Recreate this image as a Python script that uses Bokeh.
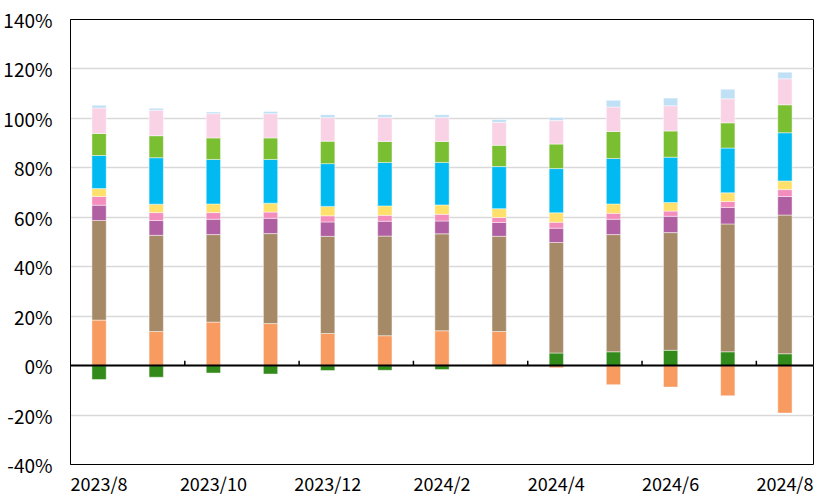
from bokeh.plotting import figure
from bokeh.models import FixedTicker, Range1d, Span, PrintfTickFormatter
from bokeh.embed import file_html
from bokeh.resources import INLINE

months = ["2023/8", "2023/9", "2023/10", "2023/11", "2023/12", "2024/1", "2024/2",
          "2024/3", "2024/4", "2024/5", "2024/6", "2024/7", "2024/8"]

# values in percent, in stacking order (bottom to top)
dark_green = [-5.6, -4.7, -3.0, -3.4, -2.0, -1.9, -1.6, 0.0, 5.1, 5.6, 6.2, 5.6, 4.8]
orange = [18.4, 13.8, 17.6, 17.0, 13.0, 12.1, 14.1, 13.8, -0.9, -7.7, -8.7, -12.2, -19.2]
brown = [40.3, 38.9, 35.4, 36.4, 39.3, 40.3, 39.2, 38.5, 44.7, 47.4, 47.6, 51.7, 56.1]
purple = [6.2, 6.0, 6.2, 6.2, 5.8, 6.0, 5.2, 5.6, 5.8, 6.2, 6.6, 6.7, 7.5]
pink = [3.5, 3.2, 2.7, 2.5, 2.5, 2.4, 2.7, 2.0, 2.4, 2.4, 2.1, 2.4, 2.8]
yellow = [3.2, 3.4, 3.5, 3.6, 3.8, 3.8, 3.8, 3.6, 3.8, 3.8, 3.5, 3.5, 3.5]
blue = [13.4, 18.8, 18.0, 17.7, 17.3, 17.6, 17.2, 17.0, 17.9, 18.4, 18.3, 18.1, 19.5]
green = [8.9, 8.9, 8.7, 8.7, 9.1, 8.5, 8.5, 8.6, 9.9, 10.9, 10.6, 10.2, 11.3]
light_pink = [10.3, 10.3, 9.8, 9.8, 9.5, 9.7, 9.7, 9.3, 9.5, 9.9, 10.2, 9.7, 10.5]
light_blue = [1.1, 0.8, 0.7, 0.9, 1.2, 1.1, 1.1, 1.2, 1.3, 2.7, 3.1, 3.9, 2.7]

y_ticks = [-40, -20, 0, 20, 40, 60, 80, 100, 120, 140]

series = [
    (dark_green, "#318a1a"),
    (orange, "#f79b61"),
    (brown, "#a68a67"),
    (purple, "#b05fa2"),
    (pink, "#f38dbd"),
    (yellow, "#ffe06a"),
    (blue, "#00baf1"),
    (green, "#7abe32"),
    (light_pink, "#fad2e6"),
    (light_blue, "#c0e1f5"),
]

FONT = "Noto Sans CJK JP"

n = len(months)
xs = [i + 0.5 for i in range(n)]

p = figure(frame_width=743, frame_height=445, x_range=Range1d(0, n),
           y_range=Range1d(y_ticks[0], y_ticks[-1]),
           output_backend="svg", toolbar_location=None,
           min_border_left=70, min_border_right=2, min_border_top=19, min_border_bottom=30)
p.background_fill_color = "white"
p.border_fill_color = "white"
p.outline_line_color = "black"
p.outline_line_width = 1

pos = [0.0] * n
neg = [0.0] * n
for vals, color in series:
    bottoms, tops = [], []
    for i, v in enumerate(vals):
        if v >= 0:
            b = pos[i]
            pos[i] = b + v
        else:
            b = neg[i]
            neg[i] = b + v
        bottoms.append(b)
        tops.append(b + v)
    p.vbar(x=xs, bottom=bottoms, top=tops, width=0.25, fill_color=color,
           line_color="white", line_alpha=0.45, line_width=1)

# zero line and its tick marks every two categories
p.add_layout(Span(location=0, dimension="width", line_color="black", line_width=2))
tick_x = list(range(2, n, 2))
p.segment(x0=tick_x, x1=tick_x, y0=[0] * len(tick_x), y1=[2] * len(tick_x),
          line_color="black", line_width=1.5)

# y axis
p.yaxis.ticker = FixedTicker(ticks=y_ticks)
p.yaxis.formatter = PrintfTickFormatter(format="%d%%")
p.yaxis.axis_line_color = "black"
p.yaxis.axis_line_width = 1
p.yaxis.major_tick_line_color = None
p.yaxis.minor_tick_line_color = None
p.yaxis.major_tick_out = 0
p.yaxis.major_tick_in = 0
p.yaxis.major_label_standoff = 18
p.yaxis.major_label_text_font = FONT
p.yaxis.major_label_text_font_size = "19px"
p.yaxis.major_label_text_color = "black"

p.ygrid.ticker = FixedTicker(ticks=y_ticks)
p.ygrid.grid_line_color = "#d9d9d9"
p.ygrid.grid_line_width = 1.5
p.xgrid.grid_line_color = None

# x axis: labels only, every other month
label_ticks = [xs[i] for i in range(0, n, 2)]
p.xaxis.ticker = FixedTicker(ticks=label_ticks)
p.xaxis.major_label_overrides = {xs[i]: months[i] for i in range(0, n, 2)}
p.xaxis.axis_line_color = None
p.xaxis.major_tick_line_color = None
p.xaxis.minor_tick_line_color = None
p.xaxis.major_tick_out = 0
p.xaxis.major_tick_in = 0
p.xaxis.major_label_standoff = 5
p.xaxis.major_label_text_font = FONT
p.xaxis.major_label_text_font_size = "18px"
p.xaxis.major_label_text_color = "black"

open("out.html", "w").write(file_html(p, INLINE))
